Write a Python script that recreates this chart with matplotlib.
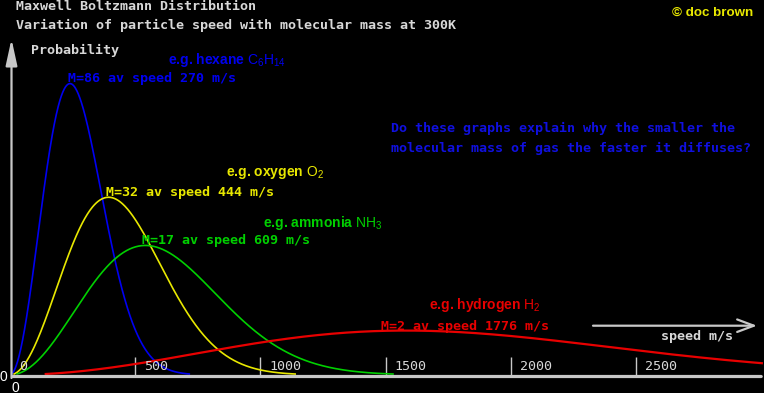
import numpy as np
import matplotlib
matplotlib.use('Agg')
import matplotlib.pyplot as plt

# molar masses (g/mol) of the example gases, temperature in K
masses = [86, 32, 17, 2]
names = ['hexane', 'oxygen', 'ammonia', 'hydrogen']
formulas = [r'$\mathrm{C_6H_{14}}$', r'$\mathrm{O_2}$', r'$\mathrm{NH_3}$', r'$\mathrm{H_2}$']
av_speeds = [270, 444, 609, 1776]
temperature = 300
tick_speeds = [0, 500, 1000, 1500, 2000, 2500]

colors = ['#0000f0', '#e8e800', '#00d000', '#e80000']
grey = '#c8c8c8'
W, H = 764, 393
R = 8.314


def mb(v, M, T):
    # Maxwell-Boltzmann speed distribution
    a = 2 * R * T / (M / 1000)
    return 4 / np.sqrt(np.pi) * v ** 2 / a ** 1.5 * np.exp(-v ** 2 / a)


plt.rcParams['mathtext.fontset'] = 'custom'
plt.rcParams['mathtext.rm'] = 'Liberation Sans'
plt.rcParams['mathtext.it'] = 'Liberation Sans:italic'
plt.rcParams['mathtext.bf'] = 'Liberation Sans:bold'

fig = plt.figure(figsize=(W / 100, H / 100), dpi=100)
fig.patch.set_facecolor('black')
ax = fig.add_axes([0, 0, 1, 1])
ax.set_facecolor('black')
ax.set_xlim(-38.3, 3008.6)
ax.set_ylim(-2.129e-4, 4.436e-3)
ax.axis('off')


def fx(x):
    return x / W


def fy(y):
    return 1 - y / H


def ptext(x, y, s, **kw):
    fig.text(fx(x), fy(y), s, va='baseline', **kw)


mono = dict(family='DejaVu Sans Mono', fontweight='bold', fontsize=9.6)
sans = dict(family='Liberation Sans', fontweight='bold', fontsize=10)

# axes: x axis band and y axis arrow
ax.annotate('', xy=(fx(764), fy(376.5)), xytext=(fx(10), fy(376.5)),
            xycoords='figure fraction', textcoords='figure fraction',
            arrowprops=dict(arrowstyle='-', color=grey, lw=2.3))
ax.annotate('', xy=(fx(11.5), fy(39)), xytext=(fx(11.5), fy(378)),
            xycoords='figure fraction', textcoords='figure fraction',
            arrowprops=dict(arrowstyle='-|>,head_length=1.6,head_width=0.35',
                            color=grey, lw=1.6, shrinkA=0, shrinkB=0))
# speed arrow
ax.annotate('', xy=(fx(757), fy(325.7)), xytext=(fx(593), fy(325.7)),
            xycoords='figure fraction', textcoords='figure fraction',
            arrowprops=dict(arrowstyle='->,head_length=1.2,head_width=0.45',
                            color=grey, lw=1.6, shrinkA=0, shrinkB=0))

# ticks and tick labels
ypp = 1.1829e-5
ax.vlines(tick_speeds[1:], 0, 18 * ypp, color=grey, lw=1)
for s in tick_speeds:
    ax.annotate(str(s), xy=(s, 0), xytext=(9 if s else 10, 5),
                textcoords='offset pixels', va='baseline', ha='left',
                color='#d8d8d8', family='DejaVu Sans Mono', fontsize=9.6)

# curves
v = np.linspace(0, 3000, 1500)
for M, c in zip(masses, colors):
    f = mb(v, M, temperature)
    f[f < 1.15e-5] = np.nan
    ax.plot(v, f, color=c, lw=1.6 if M == 2 else 1.2)

# titles
ptext(16, 10.5, 'Maxwell Boltzmann Distribution', color='#d8d8d8', **mono)
ptext(16, 28.5, 'Variation of particle speed with molecular mass at 300K',
      color='#d8d8d8', **mono)
ptext(30.5, 54, 'Probability', color='#d8d8d8', **mono)
ptext(753, 15.5, '\u00a9 doc brown', color='#e8e800', ha='right',
      family='Liberation Sans', fontweight='bold', fontsize=9.6)
ptext(661, 340, 'speed m/s', color='#d8d8d8', **mono)

# question
ptext(391, 132, 'Do these graphs explain why the smaller the', color='#1010e0', **mono)
ptext(391, 152, 'molecular mass of gas the faster it diffuses?', color='#1010e0', **mono)

# curve labels
label_pos = [(168, 64), (226.5, 176), (263, 227), (429, 309)]
mlabel_pos = [(68, 82), (105.5, 196), (141.5, 244), (381, 330)]
for i in range(len(masses)):
    x, y = label_pos[i]
    ptext(x, y, 'e.g. %s %s' % (names[i], formulas[i]), color=colors[i], **sans)
    x, y = mlabel_pos[i]
    ptext(x, y, 'M=%d av speed %d m/s' % (masses[i], av_speeds[i]), color=colors[i], **mono)

# corner zeros
ptext(0, 381, '0', color='white', family='Liberation Sans', fontsize=10)
ptext(11, 391.5, '0', color='white', family='Liberation Sans', fontsize=10)

fig.savefig('out.png', dpi=100, facecolor='black')
